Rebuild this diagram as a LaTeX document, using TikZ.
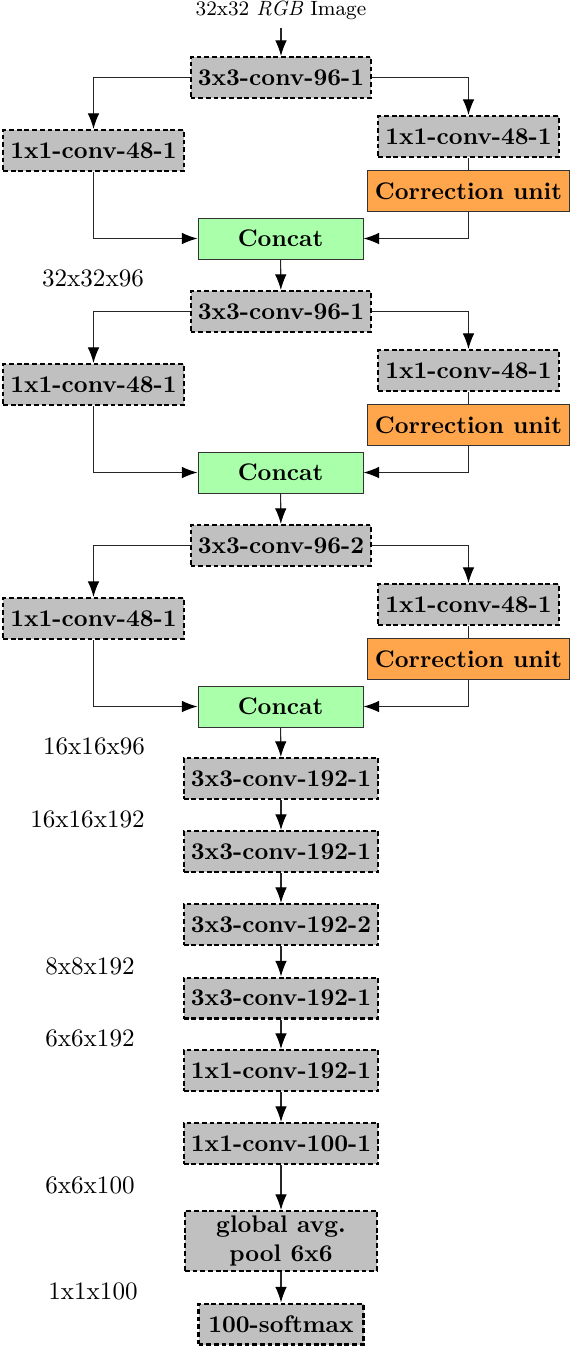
\documentclass[tikz,border=0pt]{standalone}
\usetikzlibrary{arrows.meta}
\definecolor{boxgray}{HTML}{C0C0C0}
\definecolor{corr}{HTML}{FFA64D}
\definecolor{cat}{HTML}{AAFFAA}
\begin{document}
\begin{tikzpicture}[x=0.41667pt,y=-0.41667pt,
  conv/.style={draw=black, fill=boxgray, line width=0.85pt, dash pattern=on 2pt off 1.2pt,
    font=\bfseries, minimum height=17.08pt, inner xsep=3pt, inner ysep=0pt},
  corrbox/.style={draw=black!80, fill=corr, line width=0.4pt, font=\bfseries,
    minimum height=17.08pt, minimum width=84.4pt, inner xsep=3pt},
  catbox/.style={draw=black!80, fill=cat, line width=0.4pt, font=\bfseries,
    minimum height=17.08pt, minimum width=68.75pt},
  dimlab/.style={font=\fontsize{10.45}{12}\selectfont},
  arr/.style={-{Latex[length=6.5pt,width=4.8pt,color=black]}, line width=0.45pt, draw=black!85},
  ln/.style={line width=0.45pt, draw=black!85}]
\useasboundingbox (0,0) rectangle (571,1348);

\node[font=\fontsize{8.6}{10}\selectfont] (input) at (281,10) {32x32 \textit{RGB} Image};

% Block 1
\node[conv] (a1) at (281,77.5) {3x3-conv-96-1};
\node[conv] (l1) at (93.5,150.5) {1x1-conv-48-1};
\node[conv] (r1) at (468.5,136.5) {1x1-conv-48-1};
\node[corrbox] (c1) at (468.5,191) {Correction unit};
\node[catbox] (k1) at (280.5,238.5) {Concat};
\node[dimlab] (d1) at (93,278) {32x32x96};

% Block 2
\node[conv] (a2) at (281,311.5) {3x3-conv-96-1};
\node[conv] (l2) at (93.5,384.5) {1x1-conv-48-1};
\node[conv] (r2) at (468.5,370.5) {1x1-conv-48-1};
\node[corrbox] (c2) at (468.5,425) {Correction unit};
\node[catbox] (k2) at (280.5,472.5) {Concat};

% Block 3
\node[conv] (a3) at (281,545.5) {3x3-conv-96-2};
\node[conv] (l3) at (93.5,618.5) {1x1-conv-48-1};
\node[conv] (r3) at (468.5,604.5) {1x1-conv-48-1};
\node[corrbox] (c3) at (468.5,659) {Correction unit};
\node[catbox] (k3) at (280.5,706.5) {Concat};

% Tail
\node[dimlab] (d2) at (94,746) {16x16x96};
\node[conv] (b1) at (281,778.5) {3x3-conv-192-1};
\node[dimlab] (d3) at (87.5,819) {16x16x192};
\node[conv] (b2) at (281,851.5) {3x3-conv-192-1};
\node[conv] (b3) at (281,924.5) {3x3-conv-192-2};
\node[dimlab] (d4) at (90,966) {8x8x192};
\node[conv] (b4) at (281,998) {3x3-conv-192-1};
\node[dimlab] (d5) at (90,1038) {6x6x192};
\node[conv] (b5) at (281,1070.5) {1x1-conv-192-1};
\node[conv] (b6) at (281,1143.5) {1x1-conv-100-1};
\node[dimlab] (d6) at (90,1185) {6x6x100};
\node[conv, align=center, minimum width=80pt, minimum height=25pt] (b7) at (281,1241) {global avg.\\pool 6x6};
\node[dimlab] (d7) at (93,1291) {1x1x100};
\node[conv, minimum width=68.75pt] (b8) at (281,1324) {100-softmax};

% Connectors
\draw[arr] (input) -- (a1);
\foreach \i in {1,2,3}{
  \draw[arr] (a\i.west) -| (l\i.north);
  \draw[arr] (a\i.east) -| (r\i.north);
  \draw[ln] (r\i) -- (c\i);
  \draw[arr] (l\i.south) |- (k\i.west);
  \draw[arr] (c\i.south) |- (k\i.east);
}
\draw[arr] (k1) -- (a2);
\draw[arr] (k2) -- (a3);
\draw[arr] (k3) -- (b1);
\draw[arr] (b1) -- (b2);
\draw[arr] (b2) -- (b3);
\draw[arr] (b3) -- (b4);
\draw[arr] (b4) -- (b5);
\draw[arr] (b5) -- (b6);
\draw[arr] (b6) -- (b7);
\draw[arr] (b7) -- (b8);
\end{tikzpicture}
\end{document}
